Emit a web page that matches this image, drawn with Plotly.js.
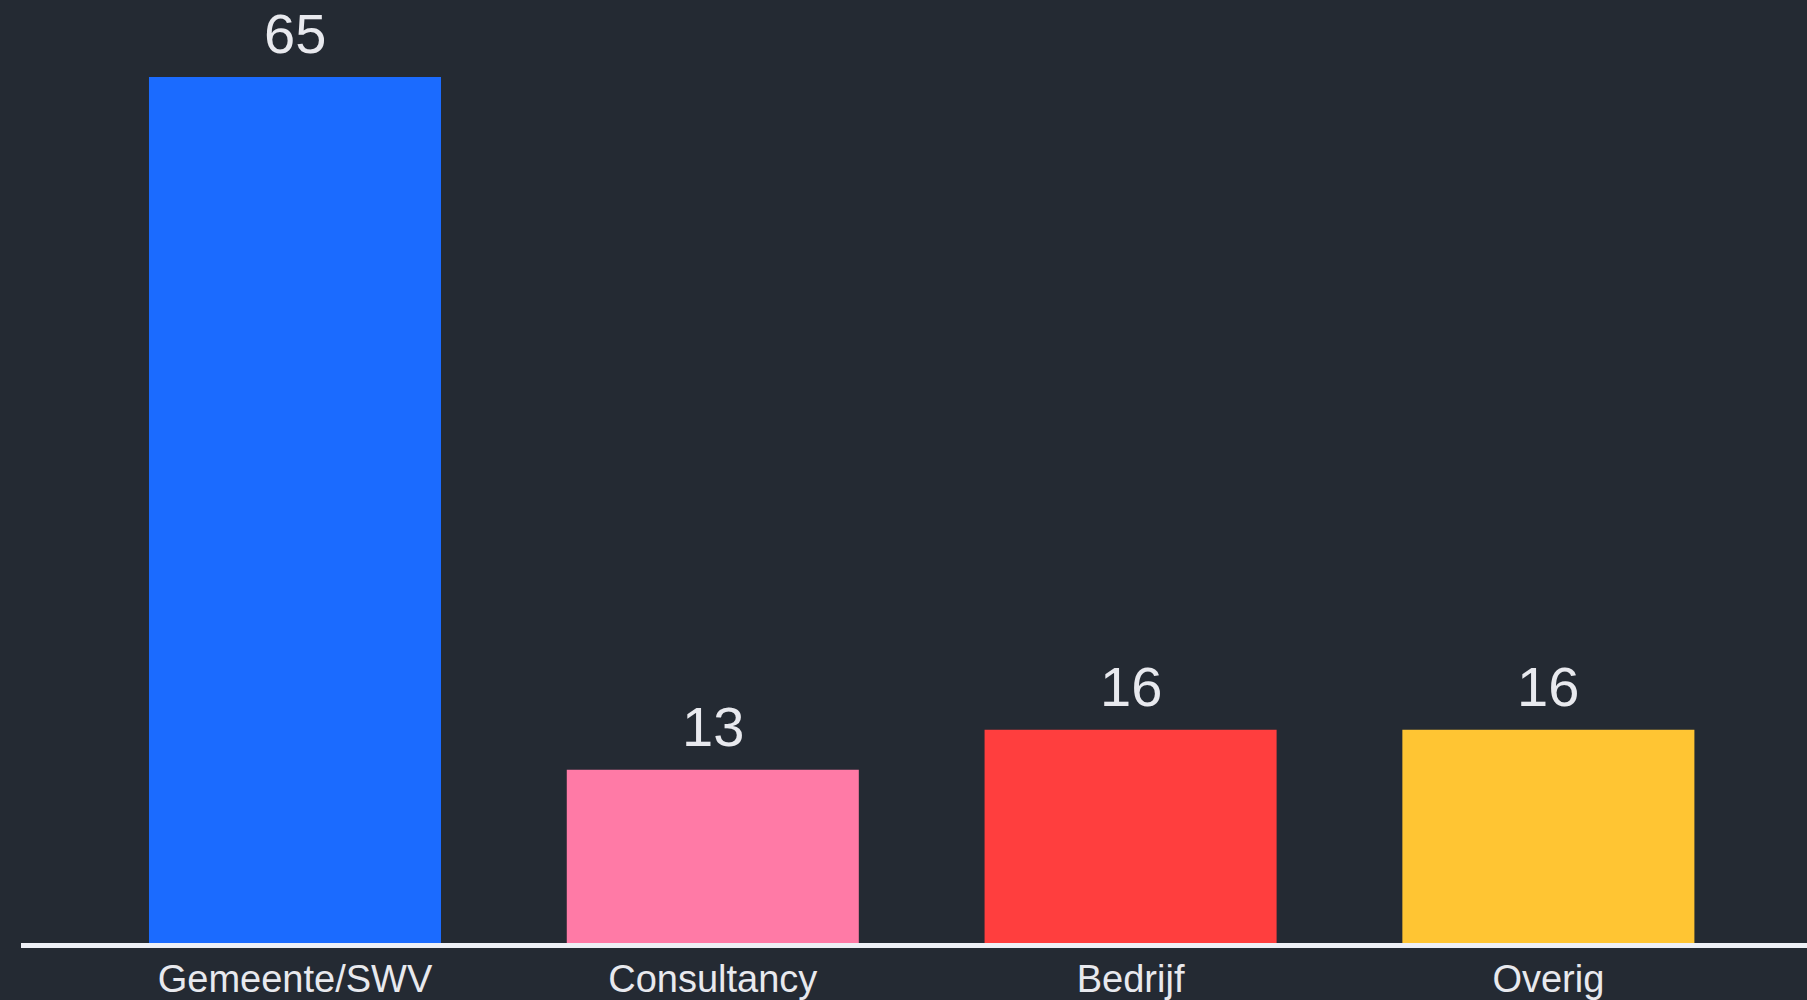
<!DOCTYPE html>
<html>
<head>
<meta charset="utf-8">
<script src="https://cdn.plot.ly/plotly-3.0.1.min.js"></script>
<style>
html,body{margin:0;padding:0;background:#242a33;}
#chart{width:1807px;height:1000px;}
</style>
</head>
<body>
<div id="chart"></div>
<script>
const categories = ["Gemeente/SWV", "Consultancy", "Bedrijf", "Overig"];
const values = [65, 13, 16, 16];
const barColors = ["#1b6bff", "#ff7aa6", "#ff3e3e", "#ffc533"];

const FONT = "Liberation Sans, Arial, sans-serif";
const TEXTCOL = "#e8e9ee";

const trace = {
  type: "bar",
  x: categories,
  y: values,
  marker: {color: barColors, line: {width: 0}},
  hoverinfo: "none"
};

const valueLabels = categories.map((c, i) => ({
  x: c,
  y: values[i],
  xref: "x",
  yref: "y",
  text: String(values[i]),
  showarrow: false,
  yanchor: "bottom",
  xanchor: "center",
  yshift: 10,
  font: {family: FONT, size: 56, color: TEXTCOL}
}));

const layout = {
  width: 1807,
  height: 1000,
  paper_bgcolor: "#242a33",
  plot_bgcolor: "#242a33",
  margin: {l: 21, r: 0, t: 0, b: 57, pad: 0},
  bargap: 0.301,
  showlegend: false,
  font: {family: FONT, color: TEXTCOL},
  annotations: valueLabels,
  xaxis: {
    type: "category",
    range: [-0.6558, 3.619],
    showline: true,
    linecolor: "#eef0f6",
    linewidth: 5,
    ticks: "",
    showgrid: false,
    zeroline: false,
    ticklabelstandoff: -2,
    tickfont: {family: FONT, size: 38, color: TEXTCOL},
    fixedrange: true
  },
  yaxis: {
    range: [0, 70.78],
    showticklabels: false,
    showgrid: false,
    zeroline: false,
    showline: false,
    ticks: "",
    fixedrange: true
  }
};

Plotly.newPlot("chart", [trace], layout, {staticPlot: true, displayModeBar: false});
</script>
</body>
</html>
